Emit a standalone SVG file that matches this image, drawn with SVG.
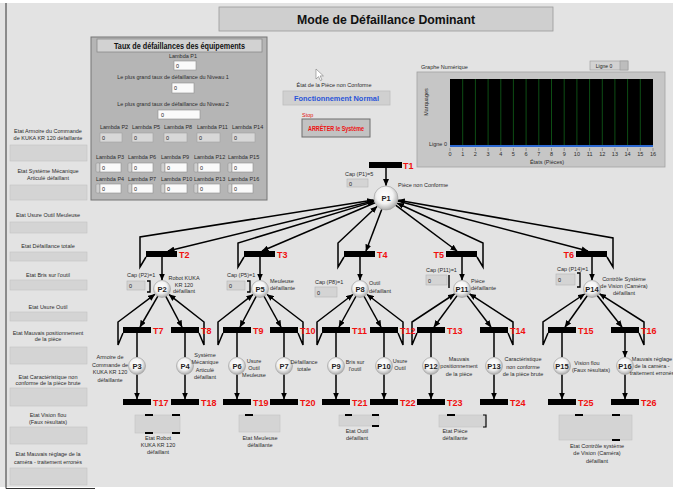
<svg xmlns="http://www.w3.org/2000/svg" width="673" height="491" viewBox="0 0 673 491">
<defs>
<style>
text{font-family:"Liberation Sans",Arial,sans-serif}
.s{font-size:5.5px;fill:#2b2b2b}
.sc{font-size:5.5px;fill:#2b2b2b;text-anchor:middle}
.t{font-size:9px;font-weight:bold;fill:#f01010}
.p{font-size:7.5px;font-weight:bold;fill:#1e1e1e;text-anchor:middle}
.bar{fill:#000}
.arc{fill:none;stroke:#000;stroke-width:1.5}
.arr{marker-end:url(#ah)}
.ind{fill:#d4d4d4;stroke:#c2c2c2;stroke-width:0.6}
.ctl{fill:#fafafa;stroke:#8e8e8e;stroke-width:0.6}
.ro{fill:#d8d8d8;stroke:#a0a0a0;stroke-width:0.6}
.spin{fill:#cfcfcf;stroke:#8e8e8e;stroke-width:0.5}
.v{font-size:5.5px;fill:#222}
.pl{fill:url(#sphere);stroke:#9c9c9c;stroke-width:0.6}
.cap{fill:#d4d4d4;stroke:#b4b4b4;stroke-width:0.6}
.mk{fill:#000}
</style>
<radialGradient id="sphere" cx="0.45" cy="0.4" r="0.62">
<stop offset="0" stop-color="#ffffff"/>
<stop offset="0.55" stop-color="#f2f2f2"/>
<stop offset="1" stop-color="#a6a6a6"/>
</radialGradient>
<marker id="ah" markerUnits="userSpaceOnUse" markerWidth="7" markerHeight="6" refX="6.5" refY="3" orient="auto">
<path d="M0,0 L7,3 L0,6 z" fill="#000"/>
</marker>
</defs>

<!-- panel background -->
<rect width="673" height="491" fill="#ffffff"/>
<rect x="0" y="3" width="673" height="484" fill="#e3e3e3"/>
<line x1="6" y1="3" x2="6" y2="488.5" stroke="#333" stroke-width="1"/>
<line x1="6" y1="488.5" x2="95" y2="488.5" stroke="#333" stroke-width="1"/>

<!-- title -->
<g id="title">
<rect x="219" y="7" width="334" height="24" fill="#cfcfcf" stroke="#9a9a9a" stroke-width="0.8"/>
<text x="386" y="23.5" text-anchor="middle" font-size="12.5" font-weight="bold" fill="#111" textLength="178" lengthAdjust="spacingAndGlyphs">Mode de Défaillance Dominant</text>
</g>

<!-- equipment failure rates -->
<g id="taux-panel">
<rect x="91" y="37" width="176" height="163" fill="#b5b5b5" stroke="#767676" stroke-width="1"/>
<rect x="97" y="39" width="165" height="13" fill="#d2d2d2" stroke="#8a8a8a" stroke-width="0.8"/>
<text x="179.5" y="49" text-anchor="middle" font-size="9" font-weight="bold" fill="#111" textLength="131" lengthAdjust="spacingAndGlyphs">Taux de défaillances des équipements</text>
<text class="sc" x="183" y="57.5">Lambda P1</text>
<rect class="ctl" x="174" y="61" width="22" height="9"/><text class="v" x="176" y="67.8">0</text>
<text class="sc" x="173" y="79">Le plus grand taux de défaillance du Niveau 1</text>
<rect class="ctl" x="172" y="83" width="22" height="10"/><text class="v" x="174" y="90.3">0</text>
<text class="sc" x="173" y="106">Le plus grand taux de défaillance du Niveau 2</text>
<rect class="ctl" x="158" y="110" width="42" height="9"/><text class="v" x="161" y="117">0</text>
<!-- row 1 : indicators -->
<text class="s" x="100" y="129">Lambda P2</text><rect class="ro" x="100" y="133" width="22" height="9"/><text class="v" x="102" y="140">0</text>
<text class="s" x="132" y="129">Lambda P5</text><rect class="ro" x="132" y="133" width="21" height="9"/><text class="v" x="134" y="140">0</text>
<text class="s" x="164" y="129">Lambda P8</text><rect class="ro" x="164" y="133" width="23" height="9"/><text class="v" x="166" y="140">0</text>
<text class="s" x="197" y="129">Lambda P11</text><rect class="ro" x="197" y="133" width="23" height="9"/><text class="v" x="199" y="140">0</text>
<text class="s" x="232" y="129">Lambda P14</text><rect class="ro" x="232" y="133" width="23" height="9"/><text class="v" x="234" y="140">0</text>
<!-- row 2 : controls -->
<text class="s" x="96" y="158.5">Lambda P3</text><rect class="spin" x="96" y="163" width="4" height="9" rx="1"/><rect class="ctl" x="100" y="163" width="21" height="9"/><text class="v" x="102" y="170">0</text>
<text class="s" x="128" y="158.5">Lambda P6</text><rect class="spin" x="128" y="163" width="4" height="9" rx="1"/><rect class="ctl" x="132" y="163" width="21" height="9"/><text class="v" x="134" y="170">0</text>
<text class="s" x="161" y="158.5">Lambda P9</text><rect class="spin" x="161" y="163" width="4" height="9" rx="1"/><rect class="ctl" x="165" y="163" width="22" height="9"/><text class="v" x="167" y="170">0</text>
<text class="s" x="194" y="158.5">Lambda P12</text><rect class="spin" x="194" y="163" width="4" height="9" rx="1"/><rect class="ctl" x="198" y="163" width="22" height="9"/><text class="v" x="200" y="170">0</text>
<text class="s" x="228" y="158.5">Lambda P15</text><rect class="spin" x="228" y="163" width="4" height="9" rx="1"/><rect class="ctl" x="232" y="163" width="21" height="9"/><text class="v" x="234" y="170">0</text>
<!-- row 3 : controls -->
<text class="s" x="96" y="180.5">Lambda P4</text><rect class="spin" x="96" y="184" width="4" height="9" rx="1"/><rect class="ctl" x="100" y="184" width="21" height="9"/><text class="v" x="102" y="191">0</text>
<text class="s" x="128" y="180.5">Lambda P7</text><rect class="spin" x="128" y="184" width="4" height="9" rx="1"/><rect class="ctl" x="132" y="184" width="21" height="9"/><text class="v" x="134" y="191">0</text>
<text class="s" x="161" y="180.5">Lambda P10</text><rect class="spin" x="161" y="184" width="4" height="9" rx="1"/><rect class="ctl" x="165" y="184" width="22" height="9"/><text class="v" x="167" y="191">0</text>
<text class="s" x="194" y="180.5">Lambda P13</text><rect class="spin" x="194" y="184" width="4" height="9" rx="1"/><rect class="ctl" x="198" y="184" width="22" height="9"/><text class="v" x="200" y="191">0</text>
<text class="s" x="228" y="180.5">Lambda P16</text><rect class="spin" x="228" y="184" width="4" height="9" rx="1"/><rect class="ctl" x="232" y="184" width="21" height="9"/><text class="v" x="234" y="191">0</text>
</g>

<!-- state indicators column -->
<g id="etats">
<text class="sc" x="48" y="133">Etat Armoire du Commande</text><text class="sc" x="48" y="139.5">de KUKA KR 120 défaillante</text>
<rect class="ind" x="10" y="145" width="77" height="16"/>
<text class="sc" x="48" y="173">Etat Système Mécanique</text><text class="sc" x="48" y="179.5">Articulé défaillant</text>
<rect class="ind" x="10" y="185" width="77" height="15"/>
<text class="sc" x="48" y="216.5">Etat Usure Outil Meuleuse</text>
<rect class="ind" x="10" y="222" width="77" height="11"/>
<text class="sc" x="48" y="247.5">Etat Défaillance totale</text>
<rect class="ind" x="10" y="252" width="77" height="9"/>
<text class="sc" x="48" y="276.5">Etat Bris sur l'outil</text>
<rect class="ind" x="10" y="280" width="77" height="10"/>
<text class="sc" x="48" y="309">Etat Usure Outil</text>
<rect class="ind" x="10" y="312" width="77" height="9"/>
<text class="sc" x="48" y="334.5">Etat Mauvais positionnement</text><text class="sc" x="48" y="341">de la pièce</text>
<rect class="ind" x="10" y="347" width="77" height="17"/>
<text class="sc" x="48" y="378.5">Etat Caractéristique non</text><text class="sc" x="48" y="385">conforme de la pièce brute</text>
<rect class="ind" x="10" y="388" width="77" height="18"/>
<text class="sc" x="48" y="417">Etat Vision flou</text><text class="sc" x="48" y="423.5">(Faux résultats)</text>
<rect class="ind" x="10" y="427" width="77" height="17"/>
<text class="sc" x="48" y="456">Etat Mauvais réglage de la</text><text class="sc" x="48" y="464">caméra - traitement erronés</text>
<rect class="ind" x="10" y="468" width="77" height="17"/>
</g>

<!-- piece state and stop button -->
<g id="etat-piece">
<text class="sc" x="334" y="87">État de la Pièce non Conforme</text>
<rect x="283" y="91" width="107" height="14" fill="#d0d0d0" stroke="#bdbdbd" stroke-width="0.8"/>
<text x="336.5" y="101" text-anchor="middle" font-size="8" font-weight="bold" fill="#2a55d8" textLength="85" lengthAdjust="spacingAndGlyphs">Fonctionnement Normal</text>
</g>
<g id="stop">
<text x="302" y="117" font-size="5.5" fill="#e01010">Stop</text>
<rect x="302" y="119" width="68" height="18" fill="#c2c2c2" stroke="#6e6e6e" stroke-width="1"/>
<text x="336" y="130.5" text-anchor="middle" font-size="6.5" font-weight="bold" fill="#ee1111" textLength="56" lengthAdjust="spacingAndGlyphs">ARRÊTER le Système</text>
</g>
<polygon points="316,69 316,79 318.5,76.6 320.4,80.6 322,79.9 320.1,75.9 323.4,75.9" fill="#fff" stroke="#666" stroke-width="0.5"/>

<!-- numeric chart -->
<g id="graphe">
<text class="s" x="421" y="68.5">Graphe Numérique</text>
<rect x="590" y="61" width="38" height="9" fill="#d2d2d2" stroke="#9a9a9a" stroke-width="0.6"/>
<rect x="620" y="61" width="8" height="9" fill="#bdbdbd" stroke="#9a9a9a" stroke-width="0.6"/>
<text x="604" y="67.6" font-size="5" text-anchor="middle" fill="#222">Ligne 0</text>
<rect x="417" y="72" width="248" height="95" fill="#c6c6c6" stroke="#a2a2a2" stroke-width="0.8"/>
<rect x="450" y="79" width="203" height="68" fill="#000"/>
<path d="M462.7,79V146M475.4,79V146M488.1,79V146M500.8,79V146M513.4,79V146M526.1,79V146M538.8,79V146M551.5,79V146M564.2,79V146M576.9,79V146M589.6,79V146M602.3,79V146M614.9,79V146M627.6,79V146M640.3,79V146" stroke="#0d4d14" stroke-width="1"/>
<line x1="450" y1="146" x2="653" y2="146" stroke="#2c68d0" stroke-width="2"/>
<path d="M450,148V151M462.7,148V151M475.4,148V151M488.1,148V151M500.8,148V151M513.4,148V151M526.1,148V151M538.8,148V151M551.5,148V151M564.2,148V151M576.9,148V151M589.6,148V151M602.3,148V151M614.9,148V151M627.6,148V151M640.3,148V151M653,148V151" stroke="#555" stroke-width="0.5"/>
<g class="sc">
<text x="450" y="155.5">0</text><text x="462.7" y="155.5">1</text><text x="475.4" y="155.5">2</text><text x="488.1" y="155.5">3</text><text x="500.8" y="155.5">4</text><text x="513.4" y="155.5">5</text><text x="526.1" y="155.5">6</text><text x="538.8" y="155.5">7</text><text x="551.5" y="155.5">8</text><text x="564.2" y="155.5">9</text><text x="576.9" y="155.5">10</text><text x="589.6" y="155.5">11</text><text x="602.3" y="155.5">12</text><text x="614.9" y="155.5">13</text><text x="627.6" y="155.5">14</text><text x="640.3" y="155.5">15</text><text x="653" y="155.5">16</text>
</g>
<text class="s" x="447" y="145.5" text-anchor="end">Ligne 0</text>
<text class="sc" x="0" y="0" transform="translate(428,102) rotate(-90)">Marquages</text>
<text class="sc" x="547" y="164">États (Pièces)</text>
</g>

<!-- connectors -->
<g id="connecteurs" class="arc">
<path class="arr" d="M386,168V185.5"/>
<path class="arr" d="M374.3,200.8L168,251"/>
<path class="arr" d="M146,257L140,267L140,237L373.6,200"/>
<path class="arr" d="M375,202.7L262,251"/>
<path class="arr" d="M244,257L238,267L238,243L374,201.6"/>
<path class="arr" d="M381.8,209.2L366,251"/>
<path class="arr" d="M344,257L338,267L338,243L376.9,206.5"/>
<path class="arr" d="M395.6,205.2L457,251"/>
<path class="arr" d="M477,257L483,267L483,243L397.3,203.3"/>
<path class="arr" d="M397.6,201L588,251"/>
<path class="arr" d="M607,257L613,267L613,238L398.3,200.2"/>
<path class="arr" d="M162,257V280"/>
<path class="arr" d="M260,257V280"/>
<path class="arr" d="M360,257V280"/>
<path class="arr" d="M462,257V280"/>
<path class="arr" d="M592,257V280"/>
<path class="arr" d="M158,295.9L140,327"/>
<path class="arr" d="M165.7,296.1L182,327"/>
<path class="arr" d="M256.3,296.1L240,327"/>
<path class="arr" d="M263.9,296L281,327"/>
<path class="arr" d="M356.1,296L339,327"/>
<path class="arr" d="M363.9,296L381,327"/>
<path class="arr" d="M457.3,295.4L434,327"/>
<path class="arr" d="M466.9,295.4L491,327"/>
<path class="arr" d="M587.4,295.5L565,327"/>
<path class="arr" d="M597,295.3L622,327"/>
<path class="arr" d="M123,333L118,345L118,322L154.8,294.4"/>
<path class="arr" d="M199,333L204,345L204,322L169.1,294.6"/>
<path class="arr" d="M223,333L218,345L218,322L252.9,294.6"/>
<path class="arr" d="M298,333L303,345L303,322L267.1,294.5"/>
<path class="arr" d="M322,333L317,345L317,322L352.9,294.5"/>
<path class="arr" d="M398,333L403,345L403,322L367.1,294.5"/>
<path class="arr" d="M417,333L412,345L412,322L454.5,294"/>
<path class="arr" d="M508,333L513,345L513,322L469.6,293.9"/>
<path class="arr" d="M548,333L543,345L543,322L584.5,294"/>
<path class="arr" d="M639,333L644,345L644,322L599.6,293.8"/>
<path class="arr" d="M137,333V357M185,333V357M237,333V357M284,333V357M336,333V357M384,333V357M431,333V357M494,333V357M562,333V357M625,333V357"/>
<path class="arr" d="M137,374.5V399"/><path class="arr" d="M185,374.5V399"/><path class="arr" d="M237,374.5V399"/><path class="arr" d="M284,374.5V399"/><path class="arr" d="M336,374.5V399"/>
<path class="arr" d="M384,374.5V399"/><path class="arr" d="M431,374.5V399"/><path class="arr" d="M494,374.5V399"/><path class="arr" d="M562,374.5V399"/><path class="arr" d="M625,374.5V399"/>
</g>

<!-- transitions -->
<g id="T1"><rect class="bar" x="369" y="162" width="33" height="6"/><text class="t" x="403" y="168.5">T1</text></g>
<g id="T2"><rect class="bar" x="146" y="251" width="31" height="6"/><text class="t" x="179" y="257.5">T2</text></g>
<g id="T3"><rect class="bar" x="244" y="251" width="31" height="6"/><text class="t" x="277" y="257.5">T3</text></g>
<g id="T4"><rect class="bar" x="344" y="251" width="31" height="6"/><text class="t" x="377" y="257.5">T4</text></g>
<g id="T5"><rect class="bar" x="446" y="251" width="31" height="6"/><text class="t" x="444" y="257.5" text-anchor="end">T5</text></g>
<g id="T6"><rect class="bar" x="576" y="251" width="31" height="6"/><text class="t" x="574" y="257.5" text-anchor="end">T6</text></g>
<g id="T7"><rect class="bar" x="123" y="327" width="28" height="6"/><text class="t" x="153" y="333.5">T7</text></g>
<g id="T8"><rect class="bar" x="171" y="327" width="28" height="6"/><text class="t" x="201" y="333.5">T8</text></g>
<g id="T9"><rect class="bar" x="223" y="327" width="28" height="6"/><text class="t" x="253" y="333.5">T9</text></g>
<g id="T10"><rect class="bar" x="270" y="327" width="28" height="6"/><text class="t" x="300" y="333.5">T10</text></g>
<g id="T11"><rect class="bar" x="322" y="327" width="28" height="6"/><text class="t" x="352" y="333.5">T11</text></g>
<g id="T12"><rect class="bar" x="370" y="327" width="28" height="6"/><text class="t" x="400" y="333.5">T12</text></g>
<g id="T13"><rect class="bar" x="417" y="327" width="28" height="6"/><text class="t" x="447" y="333.5">T13</text></g>
<g id="T14"><rect class="bar" x="480" y="327" width="28" height="6"/><text class="t" x="510" y="333.5">T14</text></g>
<g id="T15"><rect class="bar" x="548" y="327" width="28" height="6"/><text class="t" x="578" y="333.5">T15</text></g>
<g id="T16"><rect class="bar" x="611" y="327" width="28" height="6"/><text class="t" x="641" y="333.5">T16</text></g>
<g id="T17"><rect class="bar" x="123" y="399" width="28" height="6"/><text class="t" x="153" y="405.5">T17</text></g>
<g id="T18"><rect class="bar" x="171" y="399" width="28" height="6"/><text class="t" x="201" y="405.5">T18</text></g>
<g id="T19"><rect class="bar" x="223" y="399" width="28" height="6"/><text class="t" x="253" y="405.5">T19</text></g>
<g id="T20"><rect class="bar" x="270" y="399" width="28" height="6"/><text class="t" x="300" y="405.5">T20</text></g>
<g id="T21"><rect class="bar" x="322" y="399" width="28" height="6"/><text class="t" x="352" y="405.5">T21</text></g>
<g id="T22"><rect class="bar" x="370" y="399" width="28" height="6"/><text class="t" x="400" y="405.5">T22</text></g>
<g id="T23"><rect class="bar" x="417" y="399" width="28" height="6"/><text class="t" x="447" y="405.5">T23</text></g>
<g id="T24"><rect class="bar" x="480" y="399" width="28" height="6"/><text class="t" x="510" y="405.5">T24</text></g>
<g id="T25"><rect class="bar" x="548" y="399" width="28" height="6"/><text class="t" x="578" y="405.5">T25</text></g>
<g id="T26"><rect class="bar" x="611" y="399" width="28" height="6"/><text class="t" x="641" y="405.5">T26</text></g>

<!-- places -->
<g id="P1"><circle class="pl" cx="386" cy="198" r="12"/><text class="p" x="386" y="201.2" font-size="9">P1</text>
<text class="s" x="345" y="175.5">Cap (P1)=5</text><rect class="cap" x="347" y="179" width="21" height="8"/><text class="v" x="349" y="185.5">0</text>
<text class="s" x="398" y="186.5">Pièce non Conforme</text></g>

<g id="P2"><circle class="pl" cx="162" cy="289" r="8.5"/><text class="p" x="162" y="291.7">P2</text>
<text class="s" x="127" y="276.5">Cap (P2)=1</text><rect class="cap" x="127" y="281" width="18" height="9"/><text class="v" x="129" y="288">0</text>
<path d="M147,281H150V292H147" fill="none" stroke="#000" stroke-width="1.3"/>
<text class="sc" x="184" y="280">Robot KUKA</text><text class="sc" x="184" y="286.5">KR 120</text><text class="sc" x="184" y="293">défaillant</text></g>

<g id="P5"><circle class="pl" cx="260" cy="289" r="8.5"/><text class="p" x="260" y="291.7">P5</text>
<text class="s" x="227" y="276.5">Cap (P5)=1</text><rect class="cap" x="227" y="281" width="18" height="9"/><text class="v" x="229" y="288">0</text>
<path d="M247,281H250V292H247" fill="none" stroke="#000" stroke-width="1.3"/>
<text class="s" x="270" y="283">Meuleuse</text><text class="s" x="270" y="290">défaillante</text></g>

<g id="P8"><circle class="pl" cx="360" cy="289" r="8.5"/><text class="p" x="360" y="291.7">P8</text>
<text class="s" x="315" y="283.5">Cap (P8)=1</text><rect class="cap" x="315" y="287" width="22" height="10"/><text class="v" x="317" y="294.5">0</text>
<text class="s" x="369" y="284.5">Outil</text><text class="s" x="369" y="292.5">défaillant</text></g>

<g id="P11"><circle class="pl" cx="462" cy="289" r="8.5"/><text class="p" x="462" y="291.7">P11</text>
<text class="s" x="426" y="271.5">Cap (P11)=1</text><rect class="cap" x="426" y="275" width="21" height="10"/><text class="v" x="428" y="282.5">0</text>
<path d="M449,275V288" fill="none" stroke="#000" stroke-width="1.4"/>
<text class="s" x="471" y="282.5">Pièce</text><text class="s" x="471" y="290">défaillante</text></g>

<g id="P14"><circle class="pl" cx="592" cy="289" r="8.5"/><text class="p" x="592" y="291.7">P14</text>
<text class="s" x="557" y="270.5">Cap (P14)=1</text><rect class="cap" x="556" y="274" width="19" height="11"/><text class="v" x="558" y="281.5">0</text>
<path d="M577,273H580V287H577" fill="none" stroke="#000" stroke-width="1.3"/>
<text class="sc" x="624" y="280.5">Contrôle Système</text><text class="sc" x="624" y="287.5">de Vision (Caméra)</text><text class="sc" x="624" y="295">défaillant</text></g>

<g id="P3"><circle class="pl" cx="137" cy="366" r="8.5"/><text class="p" x="137" y="368.7">P3</text>
<text class="sc" x="110" y="359">Armoire de</text><text class="sc" x="110" y="366.5">Commande de</text><text class="sc" x="110" y="374">KUKA KR 120</text><text class="sc" x="110" y="381.5">défaillante</text></g>
<g id="P4"><circle class="pl" cx="185" cy="366" r="8.5"/><text class="p" x="185" y="368.7">P4</text>
<text class="sc" x="205" y="357">Système</text><text class="sc" x="205" y="364">Mécanique</text><text class="sc" x="205" y="371.5">Articulé</text><text class="sc" x="205" y="378.5">défaillant</text></g>
<g id="P6"><circle class="pl" cx="237" cy="366" r="8.5"/><text class="p" x="237" y="368.7">P6</text>
<text class="sc" x="254" y="362.5">Usure</text><text class="sc" x="254" y="369.5">Outil</text><text class="sc" x="254" y="376.5">Meuleuse</text></g>
<g id="P7"><circle class="pl" cx="284" cy="366" r="8.5"/><text class="p" x="284" y="368.7">P7</text>
<text class="sc" x="304" y="363.5">Défaillance</text><text class="sc" x="304" y="370.5">totale</text></g>
<g id="P9"><circle class="pl" cx="336" cy="366" r="8.5"/><text class="p" x="336" y="368.7">P9</text>
<text class="sc" x="355" y="363.5">Bris sur</text><text class="sc" x="355" y="370.5">l'outil</text></g>
<g id="P10"><circle class="pl" cx="384" cy="366" r="8.5"/><text class="p" x="384" y="368.7">P10</text>
<text class="sc" x="400" y="362.5">Usure</text><text class="sc" x="400" y="370">Outil</text></g>
<g id="P12"><circle class="pl" cx="431" cy="366" r="8.5"/><text class="p" x="431" y="368.7">P12</text>
<text class="sc" x="459" y="360.5">Mauvais</text><text class="sc" x="459" y="368">positionnement</text><text class="sc" x="459" y="375.5">de la pièce</text></g>
<g id="P13"><circle class="pl" cx="494" cy="366" r="8.5"/><text class="p" x="494" y="368.7">P13</text>
<text class="sc" x="523" y="361">Caractéristique</text><text class="sc" x="523" y="368.5">non conforme</text><text class="sc" x="523" y="375.5">de la pièce brute</text></g>
<g id="P15"><circle class="pl" cx="562" cy="366" r="8.5"/><text class="p" x="562" y="368.7">P15</text>
<text class="sc" x="587" y="365" font-size="5.2">Vision flou</text><text class="sc" x="591" y="372" font-size="5.2">(Faux résultats)</text></g>
<g id="P16"><circle class="pl" cx="625" cy="366" r="8.5"/><text class="p" x="625" y="368.7">P16</text>
<text class="sc" x="652" y="360.5">Mauvais réglage</text><text class="sc" x="652" y="367.5">de la caméra -</text><text class="sc" x="652" y="374.5">traitement erronés</text></g>

<!-- failure state displays -->
<g id="etat-robot">
<rect class="ind" x="135" y="415" width="45" height="18"/>
<rect class="mk" x="145" y="414" width="8" height="2"/><rect class="mk" x="172" y="414" width="8" height="2"/><rect class="mk" x="145" y="432" width="8" height="2"/><rect class="mk" x="172" y="432" width="8" height="2"/>
<text class="sc" x="158" y="439.5">Etat Robot</text><text class="sc" x="158" y="446.5">KUKA KR 120</text><text class="sc" x="158" y="454">défaillant</text>
</g>
<g id="etat-meuleuse">
<rect class="ind" x="239" y="415" width="41" height="17"/>
<rect class="mk" x="245" y="414" width="8" height="2"/>
<text class="sc" x="260" y="439.5">Etat Meuleuse</text><text class="sc" x="260" y="446.5">défaillante</text>
</g>
<g id="etat-outil">
<rect class="ind" x="339" y="415" width="40" height="11"/>
<rect class="mk" x="345" y="414" width="7" height="2"/><rect class="mk" x="372" y="414" width="7" height="2"/><rect class="mk" x="372" y="425" width="7" height="2"/>
<text class="sc" x="357" y="432.5">Etat Outil</text><text class="sc" x="357" y="439.5">défaillant</text>
</g>
<g id="etat-piece-def">
<rect class="ind" x="439" y="415" width="46" height="12"/>
<rect class="mk" x="447" y="414" width="8" height="2"/>
<path d="M483,415H486V427H483" fill="none" stroke="#000" stroke-width="1.2"/>
<text class="sc" x="455" y="432.5">Etat Pièce</text><text class="sc" x="455" y="439.5">défaillante</text>
</g>
<g id="etat-vision">
<rect class="ind" x="559" y="415" width="73" height="25"/>
<rect class="mk" x="575" y="414" width="8" height="2"/><rect class="mk" x="612" y="414" width="8" height="2"/><rect class="mk" x="612" y="439" width="8" height="2"/>
<text class="sc" x="597" y="447.5">Etat Contrôle système</text><text class="sc" x="597" y="455">de Vision (Caméra)</text><text class="sc" x="597" y="462.5">défaillant</text>
</g>
</svg>
